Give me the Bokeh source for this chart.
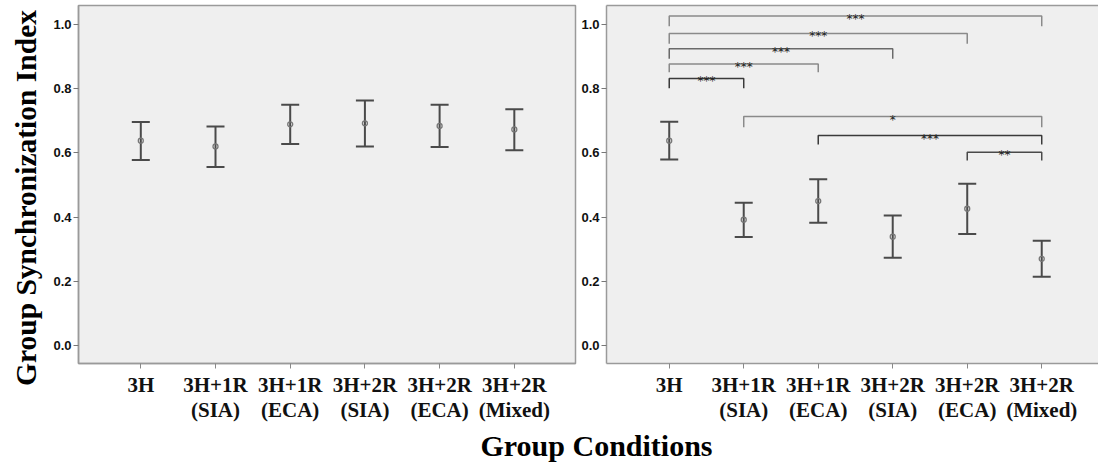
import math
from bokeh.plotting import figure
from bokeh.layouts import column, row
from bokeh.models import (Range1d, FixedTicker, PrintfTickFormatter, LinearAxis,
                          ColumnDataSource)
from bokeh.core.properties import value
from bokeh.embed import file_html
from bokeh.resources import INLINE

# ---------------- data ----------------
categories = ["3H", "3H+1R\n(SIA)", "3H+1R\n(ECA)", "3H+2R\n(SIA)",
              "3H+2R\n(ECA)", "3H+2R\n(Mixed)"]

left_mean = [0.638, 0.620, 0.689, 0.692, 0.684, 0.673]
left_lower = [0.578, 0.556, 0.628, 0.620, 0.618, 0.608]
left_upper = [0.696, 0.682, 0.750, 0.763, 0.750, 0.736]

right_mean = [0.638, 0.392, 0.450, 0.339, 0.426, 0.270]
right_lower = [0.579, 0.338, 0.382, 0.273, 0.347, 0.214]
right_upper = [0.697, 0.445, 0.518, 0.405, 0.504, 0.326]

y_ticks = [0.0, 0.2, 0.4, 0.6, 0.8, 1.0]

# significance brackets (right panel): category index pairs, heights, labels
bracket_left = [1, 1, 1, 1, 1, 2, 3, 5]
bracket_right = [6, 5, 4, 3, 2, 6, 6, 6]
bracket_top = [1.026, 0.972, 0.924, 0.877, 0.832, 0.713, 0.654, 0.602]
bracket_drop = [0.994, 0.940, 0.893, 0.851, 0.801, 0.680, 0.626, 0.576]
bracket_label = ["***", "***", "***", "***", "***", "*", "***", "**"]

y_label = "Group Synchronization Index"
x_label = "Group Conditions"

# ---------------- styles ----------------
BG = "#efefef"
FRAME = "#9a9a9a"
BAR = "#4a4a4a"
SERIF = "Liberation Serif"
SANS = "Liberation Sans"
bracket_colors = ["#8a8a8a", "#8a8a8a", "#6a6a6a", "#8a8a8a", "#3a3a3a",
                  "#8a8a8a", "#3a3a3a", "#4a4a4a"]

xs_pos = list(range(1, len(categories) + 1))
TOP_H = 425
BOT_H = 37
TOTAL_H = TOP_H + BOT_H
MB_TOP, MB_BOTTOM = 5, 62
Y_RANGE = (-0.056, 1.059)


def strip(width, height):
    f = figure(width=width, height=height, x_range=Range1d(0, width),
               y_range=Range1d(0, height), x_axis_type=None, y_axis_type=None,
               output_backend="svg", title=None, toolbar_location=None, min_border=0,
               outline_line_color=None, background_fill_color="white",
               border_fill_color="white")
    f.grid.visible = False
    return f


def make_panel(means, lowers, uppers, width, min_left, min_right, xr, outline):
    p = figure(width=width, height=TOP_H, x_range=Range1d(*xr),
               y_range=Range1d(*Y_RANGE), output_backend="svg",
               toolbar_location=None, min_border_left=min_left,
               min_border_right=min_right, min_border_top=MB_TOP,
               min_border_bottom=MB_BOTTOM,
               background_fill_color=BG, border_fill_color="white")
    p.grid.visible = False

    # y axis
    ya = p.left[0]
    ya.ticker = FixedTicker(ticks=y_ticks)
    ya.formatter = PrintfTickFormatter(format="%.1f")
    ya.major_label_text_font = SANS
    ya.major_label_text_font_style = "bold"
    ya.major_label_text_font_size = "13px"
    ya.major_label_text_color = "#111111"
    ya.major_tick_out = 5
    ya.major_tick_in = 0
    ya.minor_tick_out = 0
    ya.minor_tick_in = 0
    ya.major_label_standoff = 2
    ya.axis_line_color = FRAME
    ya.axis_line_width = 1.5
    ya.major_tick_line_color = "#777777"

    # x axis
    xa = p.below[0]
    xa.ticker = FixedTicker(ticks=xs_pos)
    xa.major_label_overrides = {x: c for x, c in zip(xs_pos, categories)}
    xa.major_label_text_font = SERIF
    xa.major_label_text_font_style = "bold"
    xa.major_label_text_font_size = "21px"
    xa.major_label_text_color = "#111111"
    xa.major_label_text_line_height = 1.05
    xa.major_tick_out = 5
    xa.major_tick_in = 0
    xa.minor_tick_out = 0
    xa.minor_tick_in = 0
    xa.major_label_standoff = 4
    xa.axis_line_color = FRAME
    xa.axis_line_width = 1.5
    xa.major_tick_line_color = "#888888"

    if outline:
        p.outline_line_color = FRAME
        p.outline_line_width = 1.5
    else:
        p.outline_line_color = None
        top = LinearAxis(ticker=FixedTicker(ticks=[]), major_tick_out=0, major_tick_in=0,
                         minor_tick_out=0, minor_tick_in=0,
                         major_label_text_font_size="0px", major_label_standoff=0,
                         axis_line_color=FRAME, axis_line_width=1.5)
        p.add_layout(top, "above")

    src = ColumnDataSource(dict(x=xs_pos, m=means, lo=lowers, hi=uppers))
    p.segment(x0="x", y0="lo", x1="x", y1="hi", source=src, line_color=BAR, line_width=2)
    p.scatter(x="x", y="hi", source=src, marker="dash", size=18, line_color=BAR, line_width=2)
    p.scatter(x="x", y="lo", source=src, marker="dash", size=18, line_color=BAR, line_width=2)
    p.scatter(x="x", y="m", source=src, marker="circle", size=5, line_color="#777777",
              fill_color=None, line_width=1.3)
    return p


LABEL_W = 45
left = make_panel(left_mean, left_lower, left_upper, 578 - LABEL_W, 78 - LABEL_W, 3,
                  (0.166, 6.819), True)
right = make_panel(right_mean, right_lower, right_upper, 520, 26, 0,
                   (0.158, 6.762), False)

# brackets
bxs, bys, mids = [], [], []
for l, r, t, d in zip(bracket_left, bracket_right, bracket_top, bracket_drop):
    bxs.append([l, l, r, r])
    bys.append([d, t, t, d])
    mids.append((l + r) / 2)
bsrc = ColumnDataSource(dict(xs=bxs, ys=bys, c=bracket_colors))
right.multi_line(xs="xs", ys="ys", source=bsrc, line_color="c", line_width=1.5)
ssrc = ColumnDataSource(dict(x=mids, y=bracket_top, t=bracket_label))
right.text(x="x", y="y", text="t", source=ssrc, text_font=value("DejaVu Sans"),
           text_font_size="12px", text_align="center", text_baseline="alphabetic",
           y_offset=3, text_color="#222222")

# rotated y-axis title strip (full height, outside the panel row)
ylab = strip(LABEL_W, TOTAL_H)
ylab.text(x=[25], y=[TOTAL_H - 197.5], text=[y_label], angle=math.pi / 2,
          text_font=value(SERIF), text_font_style="bold", text_font_size="29.5px",
          text_align="center", text_baseline="middle", text_color="#000000")

# bottom title strip
bot_w = 1098 - LABEL_W
bottom = strip(bot_w, BOT_H)
bottom.text(x=[596 - LABEL_W], y=[BOT_H - 20], text=[x_label], text_font=value(SERIF),
            text_font_style="bold", text_font_size="30px", text_align="center",
            text_baseline="middle", text_color="#000000")

layout = row(ylab, column(row(left, right), bottom))
open("out.html", "w").write(file_html(layout, INLINE))
